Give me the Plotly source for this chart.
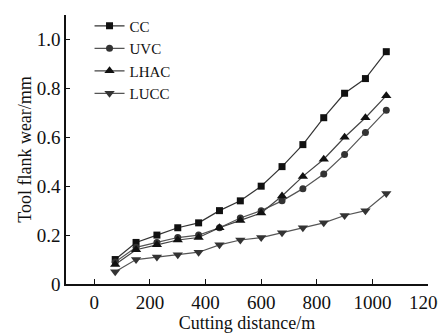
import plotly.graph_objects as go

distance = [75, 150, 225, 300, 375, 450, 525, 600, 675, 750, 825, 900, 975, 1050]
cc = [0.10, 0.17, 0.20, 0.23, 0.25, 0.30, 0.34, 0.40, 0.48, 0.57, 0.68, 0.78, 0.84, 0.95]
uvc = [0.09, 0.15, 0.17, 0.19, 0.20, 0.23, 0.27, 0.30, 0.34, 0.39, 0.45, 0.53, 0.62, 0.71]
lhac = [0.08, 0.14, 0.16, 0.18, 0.19, 0.23, 0.26, 0.29, 0.36, 0.44, 0.51, 0.60, 0.68, 0.77]
lucc = [0.05, 0.10, 0.11, 0.12, 0.13, 0.16, 0.18, 0.19, 0.21, 0.23, 0.25, 0.28, 0.30, 0.37]

x_ticks = [0, 200, 400, 600, 800, 1000, 1200]
y_ticks = [0, 0.2, 0.4, 0.6, 0.8, 1.0]
y_ticktext = ["0", "0.2", "0.4", "0.6", "0.8", "1.0"]

series = [
    ("CC", cc, "square", "#111111", "#333333", 7),
    ("UVC", uvc, "circle", "#333333", "#555555", 7),
    ("LHAC", lhac, "triangle-up", "#111111", "#444444", 9),
    ("LUCC", lucc, "triangle-down", "#333333", "#555555", 9),
]

fig = go.Figure()
for name, vals, sym, mcol, lcol, msize in series:
    fig.add_trace(go.Scatter(
        x=distance, y=vals, name=name, mode="lines+markers",
        line=dict(color=lcol, width=1.2),
        marker=dict(symbol=sym, size=msize, color=mcol),
    ))

font_family = "Liberation Serif, Times New Roman, serif"
# page body has an 8px default margin, so the figure is sized 438x325
fig.update_layout(
    width=438, height=325,
    margin=dict(l=58, r=18, t=7, b=49, autoexpand=False),
    paper_bgcolor="white", plot_bgcolor="white",
    font=dict(family=font_family, color="#111111", size=19),
    showlegend=True,
    legend=dict(x=0.065, y=1.02, xanchor="left", yanchor="top",
                bgcolor="rgba(0,0,0,0)", font=dict(size=15),
                tracegroupgap=0, itemwidth=30),
    xaxis=dict(range=[-102, 1200], tickvals=x_ticks, ticks="inside", ticklen=5,
               tickcolor="#111111", showline=True, linecolor="#111111", linewidth=1.5,
               showgrid=False, zeroline=False, tickfont=dict(size=19), automargin=False,
               ticklabeloverflow="allow",
               title=dict(text="Cutting distance/m", standoff=3, font=dict(size=18))),
    yaxis=dict(range=[0, 1.1], tickvals=y_ticks, ticktext=y_ticktext, ticks="inside",
               ticklen=4, tickcolor="#111111", showline=True, linecolor="#111111",
               linewidth=1.5, showgrid=False, zeroline=False, tickfont=dict(size=19),
               automargin=False,
               title=dict(text="Tool flank wear/mm", standoff=0, font=dict(size=18))),
)

fig.write_html("out.html")
